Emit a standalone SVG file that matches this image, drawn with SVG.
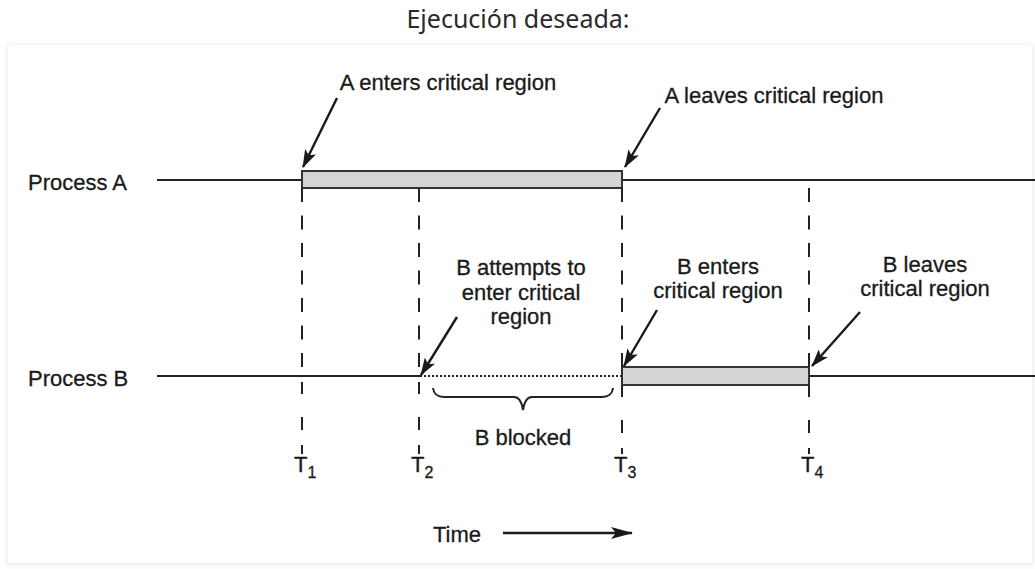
<svg xmlns="http://www.w3.org/2000/svg" width="1035" height="569" viewBox="0 0 1035 569">
<defs>
<filter id="sh" x="-5%" y="-5%" width="110%" height="110%">
<feDropShadow dx="0" dy="1" stdDeviation="3" flood-color="#000" flood-opacity="0.12"/>
</filter>
<marker id="ah" viewBox="0 0 18 12" refX="17" refY="6" markerWidth="18" markerHeight="12" markerUnits="userSpaceOnUse" orient="auto">
<path d="M0,0 L18,6 L0,12 L4,6 Z" fill="#1a1a1a"/>
</marker>
<marker id="ah2" viewBox="0 0 22 12" refX="21" refY="6" markerWidth="22" markerHeight="12" markerUnits="userSpaceOnUse" orient="auto">
<path d="M0,0 L22,6 L0,12 L5,6 Z" fill="#1a1a1a"/>
</marker>
<style>
.t{font-family:"Liberation Sans",Arial,sans-serif;font-size:22px;fill:#1a1a1a;stroke:#1a1a1a;stroke-width:0.3}
.m{text-anchor:middle}
.ln{stroke:#222;stroke-width:2;fill:none}
.bar{fill:#d4d4d4;stroke:#333;stroke-width:2}
.dash{stroke:#222;stroke-width:2;fill:none}
.arr{stroke:#1a1a1a;stroke-width:2.4;fill:none;marker-end:url(#ah)}
.sub{font-size:16px}
</style>
</defs>
<rect width="1035" height="569" fill="#fff"/>
<text x="518" y="28" text-anchor="middle" font-family="'Noto Sans','Open Sans',sans-serif" font-size="25" fill="#2a2a2a">Ejecución deseada:</text>
<rect x="8" y="45" width="1024" height="518" fill="#fff" filter="url(#sh)"/>

<g id="processA">
<text class="t" x="28" y="190">Process A</text>
<line class="ln" x1="157" y1="180" x2="1035" y2="180"/>
<rect class="bar" x="302" y="171" width="320" height="17"/>
</g>
<g id="processB">
<text class="t" x="28" y="386">Process B</text>
<line class="ln" x1="157" y1="376" x2="420" y2="376"/>
<line stroke="#222" stroke-width="2" stroke-dasharray="2 2" x1="420" y1="376" x2="622" y2="376"/>
<rect class="bar" x="622" y="367" width="187" height="18"/>
<line class="ln" x1="809" y1="376" x2="1035" y2="376"/>
</g>

<g id="timelines">
<g class="dash" stroke-dasharray="14 13.5">
<line x1="302" y1="188" x2="302" y2="367"/>
<line x1="419" y1="188" x2="419" y2="367"/>
<line x1="622" y1="188" x2="622" y2="367"/>
<line x1="809" y1="188" x2="809" y2="367"/>
</g>
<g class="dash" stroke-dasharray="12 23 13 15 10">
<line x1="302" y1="382" x2="302" y2="454"/>
<line x1="419" y1="382" x2="419" y2="454"/>
<line x1="622" y1="385" x2="622" y2="454"/>
<line x1="809" y1="385" x2="809" y2="454"/>
</g>
</g>

<g id="labels">
<g id="labelA1"><text class="t m" x="448" y="90">A enters critical region</text></g>
<g id="labelA2"><text class="t m" x="774" y="103">A leaves critical region</text></g>
<g id="labelB1"><text class="t m" x="521" y="275">B attempts to</text><text class="t m" x="521" y="300">enter critical</text><text class="t m" x="521" y="324">region</text></g>
<g id="labelB2"><text class="t m" x="718" y="274">B enters</text><text class="t m" x="718" y="298">critical region</text></g>
<g id="labelB3"><text class="t m" x="925" y="272">B leaves</text><text class="t m" x="925" y="296">critical region</text></g>
<g id="labelBlocked"><text class="t m" x="523" y="445">B blocked</text></g>
<g id="ticks">
<text class="t" x="294" y="472">T<tspan class="sub" dy="6">1</tspan></text>
<text class="t" x="411" y="472">T<tspan class="sub" dy="6">2</tspan></text>
<text class="t" x="614" y="472">T<tspan class="sub" dy="6">3</tspan></text>
<text class="t" x="801" y="472">T<tspan class="sub" dy="6">4</tspan></text>
</g>
<g id="time"><text class="t" x="433" y="542">Time</text></g>
</g>

<g id="connectors">
<line class="arr" x1="337" y1="98" x2="303" y2="167"/>
<line class="arr" x1="660" y1="108" x2="625" y2="167"/>
<line class="arr" x1="457" y1="317" x2="421" y2="375"/>
<line class="arr" x1="657" y1="310" x2="624" y2="366"/>
<line class="arr" x1="860" y1="312" x2="812" y2="366"/>
<line stroke="#1a1a1a" stroke-width="2.4" marker-end="url(#ah2)" x1="503" y1="533" x2="632" y2="533"/>
<path class="ln" stroke-width="1.3" d="M433,388 Q434,397 444,397 L514,397 Q521,397 523,410 Q525,397 532,397 L602,397 Q612,397 613,388"/>
</g>
</svg>
